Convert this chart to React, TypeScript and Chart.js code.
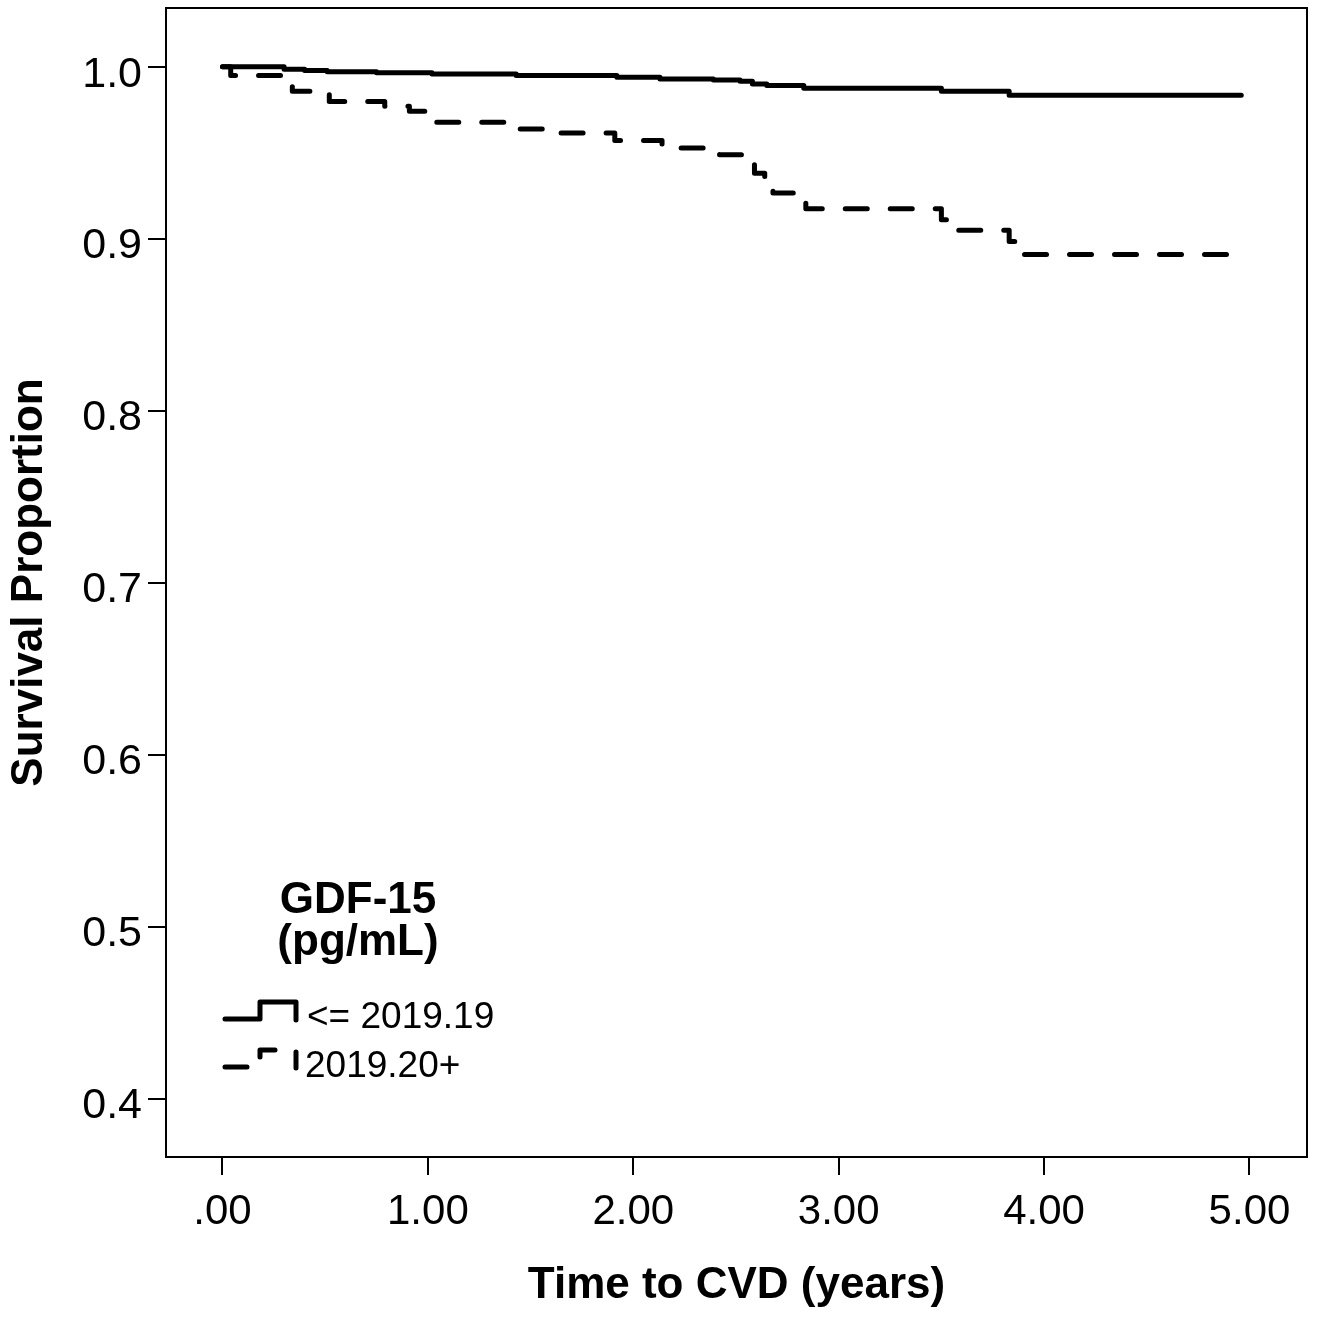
import React, { useEffect, useRef } from 'react';
import { Chart, registerables } from 'chart.js';

Chart.register(...registerables);

// Kaplan-Meier steps: time of event (years) and survival proportion after it
const lowTimes = [0, 0.30, 0.40, 0.51, 0.75, 1.02, 1.43, 1.92, 2.13, 2.39, 2.52, 2.58, 2.65, 2.83, 3.50, 3.83, 4.96];
const lowSurvival = [1.0, 0.9985, 0.9978, 0.9970, 0.9965, 0.9957, 0.9948, 0.9938, 0.9928, 0.9922, 0.9915, 0.9899, 0.9890, 0.9874, 0.9857, 0.9833, 0.9833];

const highTimes = [0, 0.04, 0.34, 0.52, 0.79, 0.91, 1.02, 1.43, 1.56, 1.91, 2.14, 2.42, 2.53, 2.59, 2.64, 2.68, 2.84, 3.50, 3.54, 3.83, 3.86, 4.96];
const highSurvival = [1.0, 0.9948, 0.9857, 0.9798, 0.9770, 0.9740, 0.9676, 0.9638, 0.9614, 0.9570, 0.9527, 0.9488, 0.9440, 0.9380, 0.9310, 0.9266, 0.9173, 0.9110, 0.9048, 0.8984, 0.8907, 0.8907];

const xTickValues = [0, 1, 2, 3, 4, 5];
const xTickLabels = ['.00', '1.00', '2.00', '3.00', '4.00', '5.00'];
const yTickValues = [0.4, 0.5, 0.6, 0.7, 0.8, 0.9, 1.0];
const yTickLabels = ['0.4', '0.5', '0.6', '0.7', '0.8', '0.9', '1.0'];

const xTitle = 'Time to CVD (years)';
const yTitle = 'Survival Proportion';
const legendTitle = ['GDF-15', '(pg/mL)'];
const seriesLabels = ['<= 2019.19', '2019.20+'];

const FONT = '"Liberation Sans", Arial, Helvetica, sans-serif';
const LINE_W = 5;
const DASH = [22, 23];

export default function App() {
  const ref = useRef<HTMLCanvasElement | null>(null);

  useEffect(() => {
    document.body.style.margin = '0';
    const canvas = ref.current;
    if (!canvas) return;

    const frame = {
      id: 'frame',
      afterDraw(chart: any) {
        const { ctx, chartArea } = chart;
        ctx.save();
        ctx.strokeStyle = '#000';
        ctx.lineWidth = 2;
        ctx.strokeRect(chartArea.left, chartArea.top, chartArea.right - chartArea.left, chartArea.bottom - chartArea.top);
        ctx.restore();
      },
    };

    const legend = {
      id: 'kmLegend',
      afterDraw(chart: any) {
        const { ctx, chartArea } = chart;
        const x0 = chartArea.left + 59;
        const titleCx = chartArea.left + 192;
        ctx.save();
        ctx.fillStyle = '#000';
        ctx.textAlign = 'center';
        ctx.textBaseline = 'alphabetic';
        ctx.font = `bold 44px ${FONT}`;
        ctx.fillText(legendTitle[0], titleCx, 913);
        ctx.fillText(legendTitle[1], titleCx, 955);

        ctx.strokeStyle = '#000';
        ctx.lineWidth = LINE_W;
        ctx.lineJoin = 'round';
        ctx.lineCap = 'round';
        const rows = [1019, 1067];
        rows.forEach((y, i) => {
          ctx.setLineDash(i === 0 ? [] : DASH);
          ctx.beginPath();
          ctx.moveTo(x0, y);
          ctx.lineTo(x0 + 35, y);
          ctx.lineTo(x0 + 35, y - 17);
          ctx.lineTo(x0 + 71, y - 17);
          ctx.lineTo(x0 + 71, y + 1);
          ctx.stroke();
        });
        ctx.setLineDash([]);
        ctx.textAlign = 'left';
        ctx.font = `37px ${FONT}`;
        ctx.fillText(seriesLabels[0], x0 + 82, 1028);
        ctx.fillText(seriesLabels[1], x0 + 80, 1077);
        ctx.restore();
      },
    };

    const chart = new Chart(canvas, {
      type: 'line',
      data: {
        datasets: [
          {
            label: seriesLabels[0],
            data: lowTimes.map((t, i) => ({ x: t, y: lowSurvival[i] })),
            stepped: true,
            borderColor: '#000',
            borderWidth: LINE_W,
            borderJoinStyle: 'round',
            borderCapStyle: 'round',
            pointRadius: 0,
            fill: false,
          },
          {
            label: seriesLabels[1],
            data: highTimes.map((t, i) => ({ x: t, y: highSurvival[i] })),
            stepped: true,
            borderColor: '#000',
            borderWidth: LINE_W,
            borderDash: DASH,
            borderJoinStyle: 'round',
            borderCapStyle: 'round',
            pointRadius: 0,
            fill: false,
          },
        ],
      },
      options: {
        animation: false,
        responsive: false,
        maintainAspectRatio: false,
        devicePixelRatio: 1,
        layout: { padding: { top: 8, right: 12, left: 0, bottom: 0 } },
        plugins: { legend: { display: false }, tooltip: { enabled: false } },
        scales: {
          x: {
            type: 'linear',
            min: -0.275,
            max: 5.28,
            afterFit: (s: any) => { s.height = 165; s.paddingLeft = 0; s.paddingRight = 0; },
            afterBuildTicks: (s: any) => { s.ticks = xTickValues.map((v) => ({ value: v })); },
            grid: { display: true, drawOnChartArea: false, drawTicks: true, tickLength: 18, color: '#000', lineWidth: 2 },
            border: { display: false },
            ticks: {
              color: '#000',
              font: { family: FONT, size: 42, lineHeight: 1.2 },
              padding: 12,
              maxRotation: 0,
              autoSkip: false,
              callback: (v: any) => {
                const i = xTickValues.findIndex((t) => Math.abs(t - Number(v)) < 1e-6);
                return i >= 0 ? xTickLabels[i] : '';
              },
            },
            title: {
              display: true,
              text: xTitle,
              color: '#000',
              font: { family: FONT, size: 44, weight: 'bold', lineHeight: 1.2 },
              padding: { top: 0, bottom: 10 },
            },
          },
          y: {
            type: 'linear',
            min: 0.366,
            max: 1.0341,
            afterFit: (s: any) => { s.width = 166; s.paddingTop = 0; s.paddingBottom = 0; },
            afterBuildTicks: (s: any) => { s.ticks = yTickValues.map((v) => ({ value: v })); },
            grid: { display: true, drawOnChartArea: false, drawTicks: true, tickLength: 18, color: '#000', lineWidth: 2 },
            border: { display: false },
            ticks: {
              color: '#000',
              font: { family: FONT, size: 43, lineHeight: 1.2 },
              padding: 6,
              labelOffset: 8,
              autoSkip: false,
              callback: (v: any) => {
                const i = yTickValues.findIndex((t) => Math.abs(t - Number(v)) < 1e-6);
                return i >= 0 ? yTickLabels[i] : '';
              },
            },
            title: {
              display: true,
              text: yTitle,
              color: '#000',
              font: { family: FONT, size: 44, weight: 'bold', lineHeight: 1.2 },
              padding: { top: 3, bottom: 0 },
            },
          },
        },
      },
      plugins: [frame, legend],
    } as any);

    return () => chart.destroy();
  }, []);

  return (
    <div style={{ width: 1319, height: 1322, position: 'relative', background: '#fff' }}>
      <canvas ref={ref} width={1319} height={1322} style={{ display: 'block' }} />
    </div>
  );
}
